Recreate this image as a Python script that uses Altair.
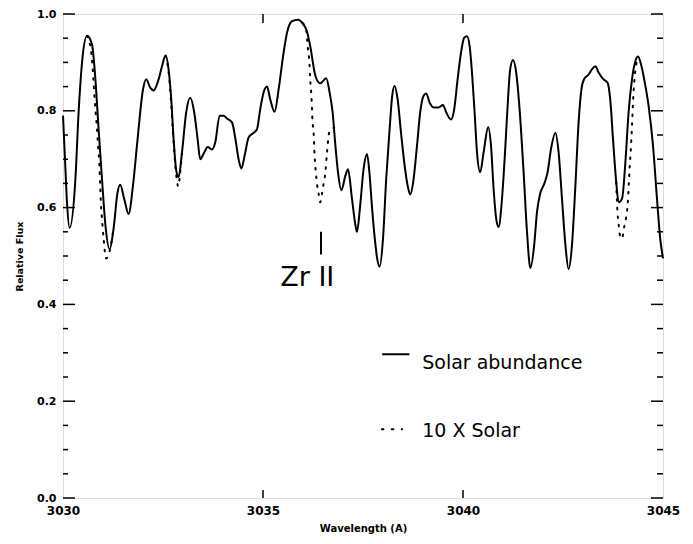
import altair as alt
import pandas as pd

# ---- data ----
solar_wl = [
    3030.00, 3030.05, 3030.10, 3030.165, 3030.31, 3030.39, 3030.475, 3030.60, 3030.725, 3030.81,
    3030.89, 3030.975, 3031.06, 3031.165, 3031.265, 3031.365, 3031.43, 3031.53, 3031.64, 3031.75,
    3031.865, 3032.00, 3032.08, 3032.18, 3032.265, 3032.39, 3032.475, 3032.565, 3032.64, 3032.70,
    3032.765, 3032.83, 3032.89, 3032.975, 3033.08, 3033.18, 3033.28, 3033.365, 3033.43, 3033.53,
    3033.615, 3033.725, 3033.81, 3033.915, 3034.015, 3034.10, 3034.225, 3034.31, 3034.39, 3034.46,
    3034.54, 3034.64, 3034.725, 3034.85, 3034.93, 3035.015, 3035.10, 3035.18, 3035.29, 3035.39,
    3035.515, 3035.60, 3035.725, 3035.875, 3035.99, 3036.10, 3036.18, 3036.31, 3036.43, 3036.58,
    3036.665, 3036.74, 3036.81, 3036.875, 3036.96, 3037.06, 3037.125, 3037.225, 3037.31, 3037.35,
    3037.43, 3037.515, 3037.60, 3037.66, 3037.725, 3037.79, 3037.86, 3037.915, 3038.00, 3038.08,
    3038.165, 3038.23, 3038.29, 3038.365, 3038.45, 3038.53, 3038.615, 3038.68, 3038.765, 3038.85,
    3038.93, 3039.015, 3039.08, 3039.165, 3039.265, 3039.39, 3039.50, 3039.58, 3039.70, 3039.78,
    3039.865, 3039.95, 3040.03, 3040.10, 3040.165, 3040.225, 3040.29, 3040.35, 3040.43, 3040.515,
    3040.63, 3040.70, 3040.765, 3040.83, 3040.89, 3040.975, 3041.06, 3041.125, 3041.18, 3041.25,
    3041.33, 3041.415, 3041.515, 3041.60, 3041.685, 3041.78, 3041.85, 3041.93, 3042.03, 3042.115,
    3042.20, 3042.31, 3042.39, 3042.475, 3042.56, 3042.64, 3042.725, 3042.81, 3042.89, 3042.96,
    3043.03, 3043.14, 3043.225, 3043.31, 3043.39, 3043.50, 3043.615, 3043.68, 3043.75, 3043.83,
    3043.89, 3043.975, 3044.06, 3044.14, 3044.225, 3044.31, 3044.375, 3044.45, 3044.53, 3044.64,
    3044.75, 3044.85, 3044.93, 3045.00,
]
solar_flux = [
    0.79, 0.70, 0.61, 0.558, 0.659, 0.797, 0.899, 0.955, 0.937, 0.865,
    0.762, 0.659, 0.564, 0.514, 0.557, 0.632, 0.647, 0.618, 0.587, 0.646,
    0.742, 0.844, 0.865, 0.848, 0.842, 0.865, 0.892, 0.914, 0.885, 0.831,
    0.742, 0.677, 0.663, 0.714, 0.797, 0.827, 0.797, 0.742, 0.700, 0.714,
    0.725, 0.720, 0.736, 0.790, 0.790, 0.784, 0.776, 0.742, 0.700, 0.681,
    0.707, 0.745, 0.752, 0.762, 0.803, 0.838, 0.850, 0.824, 0.798, 0.844,
    0.920, 0.961, 0.985, 0.988, 0.981, 0.964, 0.934, 0.872, 0.857, 0.867,
    0.838, 0.797, 0.728, 0.673, 0.636, 0.666, 0.679, 0.618, 0.564, 0.550,
    0.605, 0.680, 0.711, 0.673, 0.601, 0.540, 0.492, 0.478, 0.536, 0.659,
    0.762, 0.831, 0.851, 0.824, 0.755, 0.694, 0.646, 0.627, 0.659, 0.728,
    0.797, 0.831, 0.836, 0.817, 0.807, 0.807, 0.812, 0.797, 0.782, 0.803,
    0.865, 0.920, 0.951, 0.954, 0.934, 0.879, 0.797, 0.714, 0.673, 0.714,
    0.766, 0.728, 0.639, 0.577, 0.560, 0.618, 0.728, 0.824, 0.886, 0.905,
    0.879, 0.803, 0.673, 0.550, 0.475, 0.523, 0.591, 0.629, 0.649, 0.673,
    0.721, 0.754, 0.714, 0.618, 0.523, 0.473, 0.523, 0.646, 0.776, 0.844,
    0.866, 0.875, 0.886, 0.892, 0.879, 0.866, 0.858, 0.824, 0.742, 0.653,
    0.611, 0.618, 0.694, 0.797, 0.865, 0.903, 0.912, 0.896, 0.865, 0.810,
    0.728, 0.618, 0.536, 0.495,
]

# 10 x Solar: only the parts that depart from the solar curve
dot1_wl = [3030.60, 3030.665, 3030.725, 3030.765, 3030.81, 3030.85, 3030.875, 3030.91, 3030.93,
           3030.95, 3030.975, 3031.015, 3031.08, 3031.13, 3031.265]
dot1_fx = [0.955, 0.940, 0.906, 0.858, 0.803, 0.762, 0.728, 0.687, 0.646,
           0.605, 0.577, 0.536, 0.495, 0.500, 0.557]
dot2_wl = [3032.565, 3032.64, 3032.70, 3032.765, 3032.83, 3032.88, 3032.93, 3032.975]
dot2_fx = [0.914, 0.880, 0.820, 0.735, 0.668, 0.644, 0.672, 0.714]
dot3_wl = [3035.99, 3036.075, 3036.125, 3036.16, 3036.18, 3036.21, 3036.24, 3036.265, 3036.29,
           3036.325, 3036.35, 3036.39, 3036.43, 3036.475, 3036.515, 3036.56, 3036.60, 3036.665, 3036.78]
dot3_fx = [0.981, 0.970, 0.927, 0.899, 0.865, 0.831, 0.776, 0.755, 0.707,
           0.670, 0.649, 0.629, 0.611, 0.629, 0.649, 0.673, 0.714, 0.759, 0.765]
dot4_wl = [3043.83, 3043.865, 3043.89, 3043.915, 3043.975, 3044.03, 3044.08, 3044.115, 3044.165,
           3044.20, 3044.225, 3044.25, 3044.28, 3044.33, 3044.375]
dot4_fx = [0.653, 0.587, 0.567, 0.546, 0.536, 0.560, 0.581, 0.605, 0.680,
           0.728, 0.769, 0.817, 0.858, 0.896, 0.912]

x_tick_labels = [3030, 3035, 3040, 3045]
x_inner_ticks = [3035, 3040]
y_major = [0.0, 0.2, 0.4, 0.6, 0.8, 1.0]
y_minor = [0.05, 0.10, 0.15, 0.25, 0.30, 0.35, 0.45, 0.50, 0.55, 0.65, 0.70, 0.75, 0.85, 0.90, 0.95]

legend_labels = ["Solar abundance", "10 X Solar"]
legend_sample_x = [3037.98, 3038.66]
legend_sample_x_dot = [3037.97, 3038.48]
legend_y = [0.297, 0.142]
legend_text_x = 3038.98
legend_text_y = [0.266, 0.127]

zr_label = "Zr II"
zr_text_x = 3035.43
zr_text_y = 0.437
zr_mark_x = 3036.45
zr_mark_y = [0.503, 0.550]

# ---- tables ----
solar = pd.DataFrame({"wl": solar_wl, "flux": solar_flux})
dotted = pd.concat([
    pd.DataFrame({"wl": w, "flux": f, "seg": i})
    for i, (w, f) in enumerate([(dot1_wl, dot1_fx), (dot2_wl, dot2_fx),
                                (dot3_wl, dot3_fx), (dot4_wl, dot4_fx)])
], ignore_index=True)

X = alt.Scale(domain=[3030, 3045], nice=False, zero=False)
Y = alt.Scale(domain=[0, 1], nice=False, zero=False)

FONT = "DejaVu Sans"

xax = alt.Axis(values=x_tick_labels, format="d", ticks=False, domain=False, grid=False,
               labelFlush=False, labelOverlap=False,
               labelFontSize=12, labelFontWeight="bold", labelPadding=7, labelColor="black",
               labelFont=FONT, title="Wavelength (A)", titleFont=FONT, titleFontSize=10,
               titleFontWeight="bold", titlePadding=7, titleColor="black")
yax = alt.Axis(values=y_major, format=".1f", ticks=False, domain=False, grid=False,
               labelFlush=False, labelOverlap=False,
               labelFontSize=11, labelFontWeight="bold", labelPadding=7, labelColor="black",
               labelFont=FONT, title="Relative Flux", titleFont=FONT, titleFontSize=9.5,
               titleFontWeight="bold", titlePadding=12, titleColor="black")

base_solid = alt.Chart(solar).mark_line(color="black", strokeWidth=2, interpolate="monotone").encode(
    x=alt.X("wl:Q", scale=X, axis=xax),
    y=alt.Y("flux:Q", scale=Y, axis=yax),
)

dots = alt.Chart(dotted).mark_line(color="black", strokeWidth=2, strokeDash=[1.6, 7],
                                   strokeCap="round", interpolate="monotone").encode(
    x=alt.X("wl:Q", scale=X), y=alt.Y("flux:Q", scale=Y), detail="seg:N")

# tick marks (inward)
ymaj = pd.DataFrame({"v": y_major})
ymin = pd.DataFrame({"v": y_minor})
xin = pd.DataFrame({"v": x_inner_ticks})
W, H = 600, 484
tick_layers = [
    alt.Chart(ymaj).mark_rule(color="black", strokeWidth=1.5).encode(
        y=alt.Y("v:Q", scale=Y), x=alt.value(0), x2=alt.value(12)),
    alt.Chart(ymaj).mark_rule(color="black", strokeWidth=1.5).encode(
        y=alt.Y("v:Q", scale=Y), x=alt.value(W), x2=alt.value(W - 12)),
    alt.Chart(ymin).mark_rule(color="black", strokeWidth=1.5).encode(
        y=alt.Y("v:Q", scale=Y), x=alt.value(0), x2=alt.value(5)),
    alt.Chart(ymin).mark_rule(color="black", strokeWidth=1.5).encode(
        y=alt.Y("v:Q", scale=Y), x=alt.value(W), x2=alt.value(W - 6)),
    alt.Chart(xin).mark_rule(color="black", strokeWidth=1.5).encode(
        x=alt.X("v:Q", scale=X), y=alt.value(H), y2=alt.value(H - 8)),
    alt.Chart(xin).mark_rule(color="black", strokeWidth=1.5).encode(
        x=alt.X("v:Q", scale=X), y=alt.value(0), y2=alt.value(9)),
]

# legend (drawn inside plot)
leg_solid = alt.Chart(pd.DataFrame({"x": [legend_sample_x[0]], "x2": [legend_sample_x[1]],
                                    "y": [legend_y[0]]})).mark_rule(
    color="black", strokeWidth=2).encode(x=alt.X("x:Q", scale=X), x2="x2:Q", y=alt.Y("y:Q", scale=Y))
leg_dot = alt.Chart(pd.DataFrame({"x": [legend_sample_x_dot[0]], "x2": [legend_sample_x_dot[1]],
                                  "y": [legend_y[1]]})).mark_rule(
    color="black", strokeWidth=2, strokeDash=[1.6, 8.4], strokeCap="round").encode(
    x=alt.X("x:Q", scale=X), x2="x2:Q", y=alt.Y("y:Q", scale=Y))
leg_text = alt.Chart(pd.DataFrame({"t": legend_labels, "x": [legend_text_x] * 2,
                                   "y": legend_text_y})).mark_text(
    align="left", baseline="alphabetic", font=FONT, fontSize=19, color="black").encode(
    x=alt.X("x:Q", scale=X), y=alt.Y("y:Q", scale=Y), text="t:N")

zr_text = alt.Chart(pd.DataFrame({"t": [zr_label], "x": [zr_text_x], "y": [zr_text_y]})).mark_text(
    align="left", baseline="alphabetic", font=FONT, fontSize=27, color="black").encode(
    x=alt.X("x:Q", scale=X), y=alt.Y("y:Q", scale=Y), text="t:N")
zr_mark = alt.Chart(pd.DataFrame({"x": [zr_mark_x], "y": [zr_mark_y[0]], "y2": [zr_mark_y[1]]})).mark_rule(
    color="black", strokeWidth=2).encode(x=alt.X("x:Q", scale=X), y=alt.Y("y:Q", scale=Y), y2="y2:Q")

chart = alt.layer(
    base_solid, dots, *tick_layers, leg_solid, leg_dot, leg_text, zr_text, zr_mark
).properties(
    width=W, height=H,
    autosize=alt.AutoSizeParams(type="none"),
    padding={"left": 55, "top": 6, "right": 22, "bottom": 38},
).configure_view(stroke="black", strokeWidth=2).configure(background="white")

chart.save("out.html", embed_options={"renderer": "svg", "actions": False})
